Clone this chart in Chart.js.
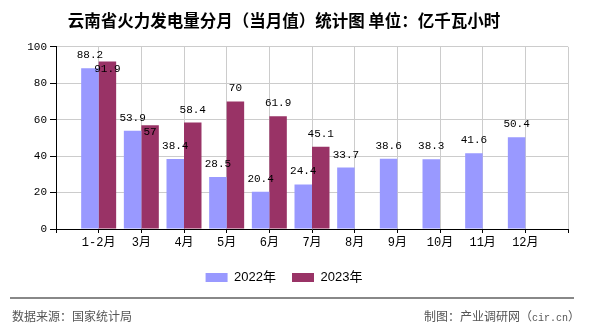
<!DOCTYPE html>
<html>
<head>
<meta charset="utf-8">
<script src="https://cdn.jsdelivr.net/npm/chart.js@4"></script>
<style>
  body { margin: 0; background: #fff; }
  #wrap { position: relative; width: 590px; height: 330px; }
  #chart { position: absolute; left: 0; top: 0; }
  .rule { position: absolute; left: 10px; top: 297px; width: 564px; height: 0; border-top: 2px solid #888; }
  .foot { position: absolute; top: 307px; font: 12px "Noto Sans CJK SC", sans-serif; color: #555; line-height: 18px; white-space: nowrap; }
  .foot span { font: 10px "Liberation Mono", monospace; }
</style>
</head>
<body>
<div id="wrap">
  <canvas id="chart" width="590" height="330"></canvas>
  <div class="rule"></div>
  <div class="foot" style="left:12px;">数据来源：国家统计局</div>
  <div class="foot" style="right:10px;">制图：产业调研网（<span>cir.cn</span>）</div>
</div>
<script>
// 月份
const months = ["1-2月", "3月", "4月", "5月", "6月", "7月", "8月", "9月", "10月", "11月", "12月"];
// 当月值 亿千瓦小时
const values2022 = [88.2, 53.9, 38.4, 28.5, 20.4, 24.4, 33.7, 38.6, 38.3, 41.6, 50.4];
const values2023 = [91.9, 57, 58.4, 70, 61.9, 45.1];
const yTicks = [0, 20, 40, 60, 80, 100];

const numFont = "'Liberation Mono', 'Noto Sans CJK SC', monospace";

// 两边各留一个空位
const labels = [""].concat(months, [""]);
const pad = (arr) => [null].concat(arr, new Array(labels.length - 1 - arr.length).fill(null));

const valueLabels = {
  id: "valueLabels",
  afterDatasetsDraw(chart) {
    const ctx = chart.ctx;
    ctx.save();
    ctx.font = "11px " + numFont;
    ctx.fillStyle = "#000";
    ctx.textAlign = "center";
    ctx.textBaseline = "middle";
    const m0 = chart.getDatasetMeta(0);
    const m1 = chart.getDatasetMeta(1);
    const placed = {};
    m0.data.forEach((bar, i) => {
      const v = chart.data.datasets[0].data[i];
      if (v == null) return;
      const y = bar.y - 13;
      placed[i] = { x: bar.x, y: y, w: ctx.measureText(String(v)).width };
      ctx.fillText(String(v), bar.x, y);
    });
    m1.data.forEach((bar, i) => {
      const v = chart.data.datasets[1].data[i];
      if (v == null) return;
      let y = bar.y - 13;
      const w = ctx.measureText(String(v)).width;
      const p = placed[i];
      if (p && Math.abs(p.x - bar.x) < (p.w + w) / 2 && Math.abs(p.y - y) < 14) {
        y = p.y + 14; // 避开重叠
      }
      ctx.fillText(String(v), bar.x, y);
    });
    ctx.restore();
  },
};

const ctx = document.getElementById("chart").getContext("2d");
const chart = new Chart(ctx, {
  type: "bar",
  data: {
    labels: labels,
    datasets: [
      {
        label: "2022年",
        data: pad(values2022),
        backgroundColor: "#9999ff",
        categoryPercentage: 0.82,
        barPercentage: 1,
      },
      {
        label: "2023年",
        data: pad(values2023),
        backgroundColor: "#993366",
        categoryPercentage: 0.82,
        barPercentage: 1,
      },
    ],
  },
  options: {
    responsive: false,
    animation: false,
    layout: { padding: { left: 0, right: 22, top: 0, bottom: 36 } },
    plugins: {
      title: {
        display: true,
        text: "云南省火力发电量分月（当月值）统计图 单位：亿千瓦小时",
        color: "#000",
        font: { family: "'Noto Sans CJK SC', sans-serif", size: 16.5, weight: "bold" },
        padding: { top: 11, bottom: 16 },
      },
      legend: {
        position: "bottom",
        labels: {
          boxWidth: 22,
          boxHeight: 9,
          padding: 16,
          color: "#000",
          font: { family: "'Liberation Sans', 'Noto Sans CJK SC', sans-serif", size: 13 },
        },
      },
      tooltip: { enabled: false },
    },
    scales: {
      x: {
        offset: false,
        grid: { offset: false, color: "#cccccc", tickColor: "#000", tickLength: 4 },
        border: { color: "#000", width: 1 },
        ticks: {
          color: "#000",
          padding: 3,
          maxRotation: 0,
          autoSkip: false,
          font: { family: numFont, size: 12 },
        },
        afterFit: (scale) => { scale.height = 26; },
      },
      y: {
        min: 0,
        max: 100,
        afterBuildTicks: (scale) => { scale.ticks = yTicks.map((v) => ({ value: v })); },
        grid: { color: "#cccccc", tickColor: "#000", tickLength: 6 },
        border: { color: "#000", width: 1 },
        ticks: { color: "#000", padding: 3, font: { family: numFont, size: 11 } },
        afterFit: (scale) => { scale.width = 56; },
      },
    },
  },
  plugins: [valueLabels],
});
</script>
</body>
</html>
